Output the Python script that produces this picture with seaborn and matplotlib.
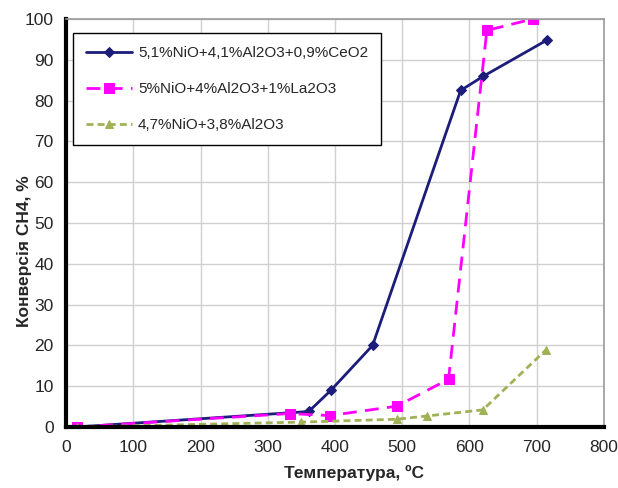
import numpy as np
import pandas as pd
import matplotlib
matplotlib.use("Agg")
import matplotlib.pyplot as plt
import seaborn as sns

# values
temp_ce = [16, 361, 394, 456, 587, 621, 715]
conv_ce = [0, 3.8, 9.0, 20.0, 82.5, 86.0, 94.8]

temp_la = [16, 333, 392, 492, 569, 626, 694]
conv_la = [0, 3.3, 2.8, 5.1, 11.7, 97.2, 100.0]

temp_base = [16, 349, 492, 537, 620, 714]
conv_base = [0, 1.2, 1.9, 2.7, 4.2, 18.9]

labels = ["5,1%NiO+4,1%Al2O3+0,9%CeO2",
          "5%NiO+4%Al2O3+1%La2O3",
          "4,7%NiO+3,8%Al2O3"]

x_ticks = [0, 100, 200, 300, 400, 500, 600, 700, 800]
y_ticks = [0, 10, 20, 30, 40, 50, 60, 70, 80, 90, 100]

sns.set_style("whitegrid")
plt.rcParams['font.family'] = ['Liberation Sans', 'DejaVu Sans']

fig = plt.figure(figsize=(6.18, 4.88), dpi=100)
ax = fig.add_axes([0.107, 0.125, 0.870, 0.836])

sns.lineplot(x=temp_ce, y=conv_ce, ax=ax, sort=False, color='#1c1c7a',
             linewidth=2, marker='D', markersize=5, markeredgecolor='#1c1c7a',
             label=labels[0])
sns.lineplot(x=temp_la, y=conv_la, ax=ax, sort=False, color='#ff00ff',
             linewidth=2, linestyle=(0, (5, 3)), marker='s', markersize=7,
             markeredgecolor='#ff00ff', label=labels[1])
sns.lineplot(x=temp_base, y=conv_base, ax=ax, sort=False, color='#9fb256',
             linewidth=2, linestyle=(0, (2.5, 1.5)), marker='^', markersize=6,
             markeredgecolor='#9fb256', label=labels[2])

ax.set_xlim(0, 800)
ax.set_ylim(0, 100)
ax.set_xticks(x_ticks)
ax.set_yticks(y_ticks)
ax.tick_params(axis='both', labelsize=12.5, direction='inout', length=6,
               width=1.5, color='black', pad=6)

ax.grid(True, color='#d0d0d0', linewidth=1)
for side in ['left', 'bottom']:
    ax.spines[side].set_color('black')
    ax.spines[side].set_linewidth(3)
for side in ['top', 'right']:
    ax.spines[side].set_color('#999999')
    ax.spines[side].set_linewidth(1.2)

ax.set_xlabel("Температура, ºC", fontsize=12.5, fontweight='bold')
ax.set_ylabel("Конверсія CH4, %", fontsize=12.5, fontweight='bold')
ax.xaxis.set_label_coords(0.535, -0.093)
ax.yaxis.set_label_coords(-0.063, 0.43)

leg = ax.legend(loc='upper left', bbox_to_anchor=(0.013, 0.966), fontsize=11,
                frameon=True, fancybox=False, handlelength=3.0,
                handletextpad=0.4, labelspacing=1.45, borderpad=0.85,
                borderaxespad=0)
leg.get_frame().set_edgecolor('black')
leg.get_frame().set_linewidth(1)
leg.get_frame().set_facecolor('white')
leg.get_frame().set_alpha(1)

fig.savefig("out.png", dpi=100)
